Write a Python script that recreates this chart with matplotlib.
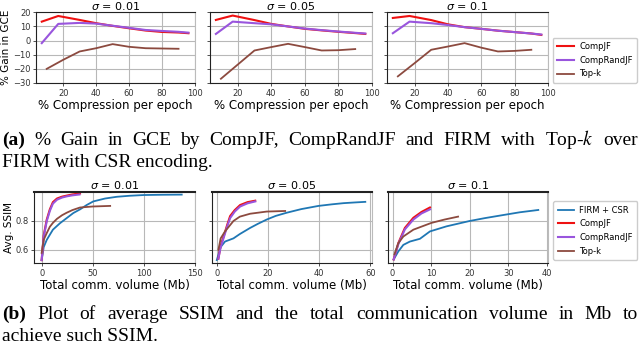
import matplotlib
matplotlib.use("Agg")
import matplotlib.pyplot as plt

W, H = 640, 347
# ---------------- data ----------------
sigmas = ["0.01", "0.05", "0.1"]
top_x_comp = [7, 17, 30, 40, 50, 60, 70, 80, 90, 96]
top_x_topk = [10, 20, 30, 40, 50, 60, 70, 80, 90]
gain_compjf = [
    [13.4, 17.4, 14.6, 12.3, 10.4, 8.7, 7.1, 6.1, 5.7, 5.2],
    [14.6, 17.7, 14.5, 11.8, 10.0, 8.3, 7.2, 6.2, 5.3, 4.7],
    [16.0, 17.4, 14.5, 11.5, 9.5, 8.3, 7.0, 6.0, 5.0, 4.0],
]
gain_comprandjf = [
    [-1.8, 11.8, 12.5, 12.0, 10.5, 9.0, 7.5, 6.8, 6.2, 5.6],
    [4.7, 13.4, 12.3, 11.5, 10.0, 8.5, 7.4, 6.4, 5.5, 5.0],
    [5.2, 13.4, 12.3, 11.0, 9.5, 8.3, 7.0, 6.0, 5.0, 4.3],
]
gain_topk = [
    [-20.0, -13.6, -7.7, -5.4, -2.5, -4.4, -5.4, -5.6, -5.8],
    [-27.0, -17.0, -7.0, -4.6, -2.3, -4.6, -7.0, -6.8, -6.0],
    [-25.3, -16.0, -6.5, -4.2, -1.8, -5.0, -7.7, -7.3, -6.5],
]
top_xticks = [20, 40, 60, 80, 100]
top_yticks = [-30, -20, -10, 0, 10, 20]

# SSIM vs communication volume
firm_x = [
    [0, 2, 5, 11, 18, 24.5, 31, 37.5, 44, 50.5, 62, 73.5, 86, 99.6, 118, 137],
    [0, 1.5, 3.2, 6.5, 9, 13, 16, 19.5, 23, 27.3, 33, 39.7, 45, 49.5, 54, 58],
    [0.3, 1.5, 2.8, 4.5, 7.1, 9.7, 14, 20, 24, 28.7, 33, 37.8],
]
firm_y = [
    [0.53, 0.62, 0.67, 0.74, 0.785, 0.82, 0.855, 0.88, 0.91, 0.935, 0.955, 0.967, 0.974, 0.979, 0.981, 0.982],
    [0.53, 0.62, 0.658, 0.68, 0.71, 0.752, 0.78, 0.81, 0.835, 0.857, 0.882, 0.904, 0.915, 0.923, 0.928, 0.932],
    [0.535, 0.59, 0.635, 0.658, 0.677, 0.728, 0.763, 0.8, 0.82, 0.841, 0.86, 0.876],
]
compjf_x = [
    [0, 2, 5, 8, 11, 15, 20, 24.5, 30, 37.5],
    [0.6, 1.5, 2.6, 4, 5.2, 7, 9.1, 12, 15],
    [0.3, 1.5, 3.2, 5.4, 7.5, 9.7],
]
compjf_y = [
    [0.53, 0.70, 0.81, 0.88, 0.93, 0.955, 0.968, 0.975, 0.983, 0.99],
    [0.54, 0.63, 0.69, 0.77, 0.834, 0.875, 0.91, 0.93, 0.94],
    [0.535, 0.647, 0.752, 0.822, 0.862, 0.893],
]
comprand_x = [
    [0, 2, 5, 8, 11, 15, 20, 24.5, 30, 37],
    [0.6, 1.5, 2.6, 4, 5.2, 7, 9.1, 12, 15],
    [0.3, 1.5, 3.2, 5.4, 7.5, 9.7],
]
comprand_y = [
    [0.53, 0.69, 0.80, 0.87, 0.92, 0.947, 0.962, 0.970, 0.977, 0.983],
    [0.54, 0.62, 0.68, 0.76, 0.82, 0.865, 0.90, 0.922, 0.935],
    [0.535, 0.64, 0.742, 0.81, 0.852, 0.88],
]
topk_x = [
    [0, 2, 5, 8, 11, 15, 20, 24.5, 30, 37.5, 50, 67],
    [0.6, 1.5, 3.2, 6.5, 9, 13, 19.5, 26.7],
    [0.5, 1.5, 2.8, 5.4, 10.1, 13.5, 17],
]
topk_y = [
    [0.58, 0.67, 0.717, 0.76, 0.787, 0.815, 0.84, 0.857, 0.875, 0.893, 0.90, 0.904],
    [0.60, 0.68, 0.728, 0.80, 0.83, 0.85, 0.865, 0.869],
    [0.57, 0.647, 0.693, 0.74, 0.787, 0.81, 0.83],
]
bot_xticks = [[0, 50, 100, 150], [0, 20, 40, 60], [0, 10, 20, 30, 40]]
bot_yticks = [0.6, 0.8]

C_RED = "#ee1111"
C_PUR = "#9955dd"
C_BRN = "#8c4a3f"
C_BLU = "#1f77b4"

fig = plt.figure(figsize=(6.4, 3.47), dpi=100)
fig.patch.set_facecolor("white")


def rect(l, r, t, b):
    return [l / W, 1 - b / H, (r - l) / W, (b - t) / H]


def style(ax):
    ax.grid(True, color="#b8b8b8", lw=0.8)
    ax.set_axisbelow(True)
    ax.tick_params(labelsize=6, length=2.5, width=0.6, colors="#333333", pad=1.5)
    for s in ax.spines.values():
        s.set_linewidth(0.8)
        s.set_color("#222222")
    ax.spines["right"].set_color("#bbbbbb")


LEG = dict(loc="lower left", fontsize=6, frameon=True, handlelength=2.0,
           handletextpad=0.6, borderpad=0.55, labelspacing=0.55, borderaxespad=0,
           fancybox=True, framealpha=1, edgecolor="#cccccc")

top_pos = [(36, 195), (210, 372), (387, 548)]
for i, (l, r) in enumerate(top_pos):
    ax = fig.add_axes(rect(l, r, 12.3, 83))
    style(ax)
    ax.plot(top_x_comp, gain_compjf[i], color=C_RED, lw=1.5, label="CompJF")
    ax.plot(top_x_comp, gain_comprandjf[i], color=C_PUR, lw=1.5, label="CompRandJF")
    ax.plot(top_x_topk, gain_topk[i], color=C_BRN, lw=1.3, label="Top-k")
    ax.set_xlim(3.5, 100)
    ax.set_ylim(-30, 20)
    ax.set_xticks(top_xticks)
    ax.set_yticks(top_yticks)
    if i == 0:
        ax.set_ylabel("% Gain in GCE", fontsize=7.5, labelpad=1)
    else:
        ax.set_yticklabels([])
    ax.set_xlabel("% Compression per epoch", fontsize=8.5, labelpad=1)
    ax.set_title(r"$\sigma$ = " + sigmas[i], fontsize=8, pad=2)
    if i == 2:
        ax.legend(bbox_to_anchor=(1.03, 0.0), **LEG)

bot_pos = [(34, 195), (211.7, 371.7), (388.3, 548.3)]
bot_xlim = [(-7.5, 150), (-2, 60.5), (-1.1, 40.4)]
for i, (l, r) in enumerate(bot_pos):
    ax = fig.add_axes(rect(l, r, 192, 263))
    style(ax)
    ax.plot(firm_x[i], firm_y[i], color=C_BLU, lw=1.3, label="FIRM + CSR")
    ax.plot(compjf_x[i], compjf_y[i], color=C_RED, lw=1.5, label="CompJF")
    ax.plot(comprand_x[i], comprand_y[i], color=C_PUR, lw=1.5, label="CompRandJF")
    ax.plot(topk_x[i], topk_y[i], color=C_BRN, lw=1.3, label="Top-k")
    ax.set_xlim(*bot_xlim[i])
    ax.set_ylim(0.51, 1.0)
    ax.set_xticks(bot_xticks[i])
    ax.set_yticks(bot_yticks)
    ax.spines["top"].set_linewidth(1.5)
    if i == 0:
        ax.set_ylabel("Avg. SSIM", fontsize=7.5, labelpad=1)
    else:
        ax.set_yticklabels([])
    ax.set_xlabel("Total comm. volume (Mb)", fontsize=8.5, labelpad=1)
    ax.set_title(r"$\sigma$ = " + sigmas[i], fontsize=8, pad=2)
    if i == 2:
        ax.legend(bbox_to_anchor=(1.03, 0.04), **LEG)

# ---------------- captions ----------------
CAP_FS = 14
SERIF = ["Liberation Serif", "DejaVu Serif"]
renderer = fig.canvas.get_renderer()


def justified(words, baseline, x0=2, x1=638):
    texts = []
    widths = []
    for w, bold in words:
        t = fig.text(0, 1 - baseline / H, w, fontsize=CAP_FS, family=SERIF,
                     fontweight="bold" if bold else "normal", va="baseline",
                     ha="left", math_fontfamily="stix")
        bb = t.get_window_extent(renderer)
        texts.append(t)
        widths.append(bb.width)
    gap = (x1 - x0 - sum(widths)) / (len(words) - 1)
    x = x0
    for t, wd in zip(texts, widths):
        t.set_x(x / W)
        x += wd + gap


def plain(s, baseline, x0=2):
    fig.text(x0 / W, 1 - baseline / H, s, fontsize=CAP_FS, family=SERIF,
             va="baseline", ha="left", math_fontfamily="stix")


cap_a = [("(a)", True), ("%", False), ("Gain", False), ("in", False), ("GCE", False),
         ("by", False), ("CompJF,", False), ("CompRandJF", False), ("and", False),
         ("FIRM", False), ("with", False), ("Top-$k$", False), ("over", False)]
justified(cap_a, 145)
plain("FIRM with CSR encoding.", 167)

cap_b = [("(b)", True), ("Plot", False), ("of", False), ("average", False), ("SSIM", False),
         ("and", False), ("the", False), ("total", False), ("communication", False),
         ("volume", False), ("in", False), ("Mb", False), ("to", False)]
justified(cap_b, 319)
plain("achieve such SSIM.", 341)

fig.savefig("out.png", dpi=100, facecolor="white")
